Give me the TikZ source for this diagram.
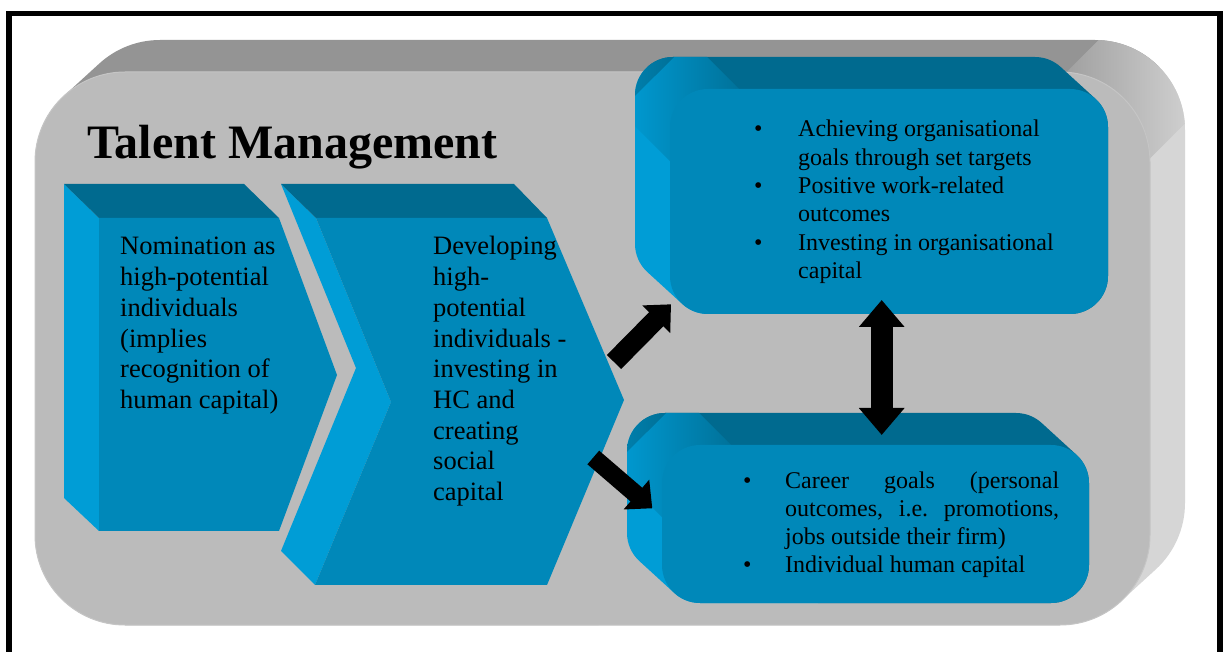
\documentclass[tikz,border=0pt]{standalone}
\usepackage{fontspec}
\setmainfont{Liberation Serif}
\usetikzlibrary{calc,arrows.meta}
\definecolor{gfront}{HTML}{BBBBBB}
\definecolor{gtop}{HTML}{949494}
\definecolor{gside}{HTML}{D6D6D6}
\definecolor{bfront}{HTML}{0088B9}
\definecolor{btop}{HTML}{006A8F}
\definecolor{bside}{HTML}{009DD6}
\frenchspacing
% extruded rounded box, front face (#1,#2)-(#3,#4), radius #5, depth (-35,32)
\newcommand{\bluebox}[5]{%
  \begin{scope}
    \clip (#3-#5,#2) -- (#1+#5,#2) arc[start angle=270,end angle=227.6,radius=#5pt]
      -- ($(#1+#5-35,#2+#5+32)+(227.6:#5pt)$) arc[start angle=227.6,end angle=180,radius=#5pt]
      -- (#1-35,#4+32-#5) arc[start angle=180,end angle=90,radius=#5pt]
      -- (#3-35-#5,#4+32) arc[start angle=90,end angle=47.6,radius=#5pt]
      -- ($(#3-#5,#4-#5)+(47.6:#5pt)$) arc[start angle=47.6,end angle=0,radius=#5pt]
      -- (#3,#2+#5) arc[start angle=0,end angle=-90,radius=#5pt] -- cycle;
    \begin{scope}[shift={(#1+#5-17.5,#4-#5+16)},rotate=45]
      \fill[bside] (-1500,-1500) rectangle (0,1500);
      \fill[btop] (0,-1500) rectangle (1500,1500);
      \foreach \k in {0,100}
        \shade[left color=bside,right color=btop] (-50,\k-50) rectangle (50,\k+50);
    \end{scope}
  \end{scope}
  \fill[bfront,rounded corners=#5pt] (#1,#2) rectangle (#3,#4);
}
\begin{document}
\begin{tikzpicture}[x=1pt,y=1pt,
  txt/.style={anchor=base west,inner sep=0pt,font=\fontsize{26.5}{30.7}\selectfont},
  btxt/.style={anchor=base west,inner sep=0pt,font=\fontsize{24}{28}\selectfont},
  ttl/.style={anchor=base west,inner sep=0pt,font=\fontsize{48}{52}\selectfont\bfseries},
  barrow/.style={line width=20pt,-{Triangle[length=21pt,width=38pt]}},
  darrow/.style={line width=22pt,{Triangle[length=27pt,width=44pt]}-{Triangle[length=27pt,width=44pt]}},
  frame/.style={draw=black,line width=5.5pt}]
\useasboundingbox (0,0) rectangle (1224,651);
\clip (0,0) rectangle (1224,651);
\fill[white] (0,0) rectangle (1224,651);
\draw[frame] (9,637.5) rectangle (1220,-40);

% big grey extruded box
\begin{scope}
  \clip (125,26) arc[start angle=270,end angle=180,radius=90pt]
    -- (35,489) arc[start angle=180,end angle=132.4,radius=90pt]
    -- ($(160,521)+(132.4:90pt)$) arc[start angle=132.4,end angle=90,radius=90pt]
    -- (1095,611) arc[start angle=90,end angle=0,radius=90pt]
    -- (1185,148) arc[start angle=0,end angle=-47.6,radius=90pt]
    -- ($(1060,116)+(-47.6:90pt)$) arc[start angle=-47.6,end angle=-90,radius=90pt] -- cycle;
  \begin{scope}[shift={(1077.5,505)},rotate=-45]
    \fill[gtop] (-2500,-2500) rectangle (0,2500);
    \fill[gside] (0,-2500) rectangle (2500,2500);
    \foreach \k in {-60,60,180}
      \shade[left color=gtop,right color=gside] (-60,\k-60) rectangle (60,\k+60);
  \end{scope}
\end{scope}
\fill[gfront,draw=gfront!85!white,line width=1pt,rounded corners=90pt] (35,26) rectangle (1150,579);

% chevron 1
\fill[bside] (64,467) -- (64,153) -- (99,120) -- (99,433) -- cycle;
\fill[btop] (64,467) -- (244,467) -- (279,433) -- (99,433) -- cycle;
\fill[bfront] (99,433) -- (279,433) -- (337,276) -- (279,120) -- (99,120) -- cycle;

% chevron 2
\fill[bside] (281,467) -- (356,283) -- (281,100) -- (315,66) -- (391,249) -- (316,433) -- cycle;
\fill[btop] (281,467) -- (514,467) -- (547,433) -- (316,433) -- cycle;
\fill[bfront] (316,433) -- (547,433) -- (624,251) -- (547,66) -- (315,66) -- (391,249) -- cycle;

% rounded boxes
\bluebox{670}{337}{1108}{562}{38}
\bluebox{662}{48}{1089}{206}{38}

% title
\node[ttl] (title) at (87,492) {Talent Management};

% chevron texts
\foreach \t [count=\i from 0] in {Nomination as,high-potential,individuals,{(implies},recognition of,{human capital)}}
  \node[txt] (ca\i) at (120,396-30.7*\i) {\t};
\foreach \t [count=\i from 0] in {Developing,high-,potential,individuals -,investing in,HC and,creating,social,capital}
  \node[txt] (cb\i) at (433,396-30.7*\i) {\t};

% box 1 text
\foreach \t [count=\i from 0] in {Achieving organisational,goals through set targets,Positive work-related,outcomes,Investing in organisational,capital}
  \node[btxt] (ba\i) at (798,514-28.3*\i) {\t};
\foreach \i in {0,2,4}
  \node[btxt] (bua\i) at (754,514-28.3*\i) {\textbullet};

% box 2 text
\node[btxt] (bb0) at (785,162) {\makebox[274pt][s]{Career goals (personal}};
\node[btxt] (bb1) at (785,134) {\makebox[274pt][s]{outcomes, i.e. promotions,}};
\node[btxt] (bb2) at (785,106) {jobs outside their firm)};
\node[btxt] (bb3) at (785,78) {Individual human capital};
\node[btxt] (bub0) at (743,162) {\textbullet};
\node[btxt] (bub3) at (743,78) {\textbullet};

% arrows
\coordinate (aAs) at (614,289);
\coordinate (aAe) at (671,346.7);
\coordinate (aBs) at (593.3,193.5);
\coordinate (aBe) at (652.3,142.7);
\coordinate (dT) at (881.7,351);
\coordinate (dB) at (881.7,216);
\draw[barrow] (aAs) -- (aAe);
\draw[barrow,line width=18pt] (aBs) -- (aBe);
\draw[darrow] (dB) -- (dT);
\end{tikzpicture}
\end{document}
